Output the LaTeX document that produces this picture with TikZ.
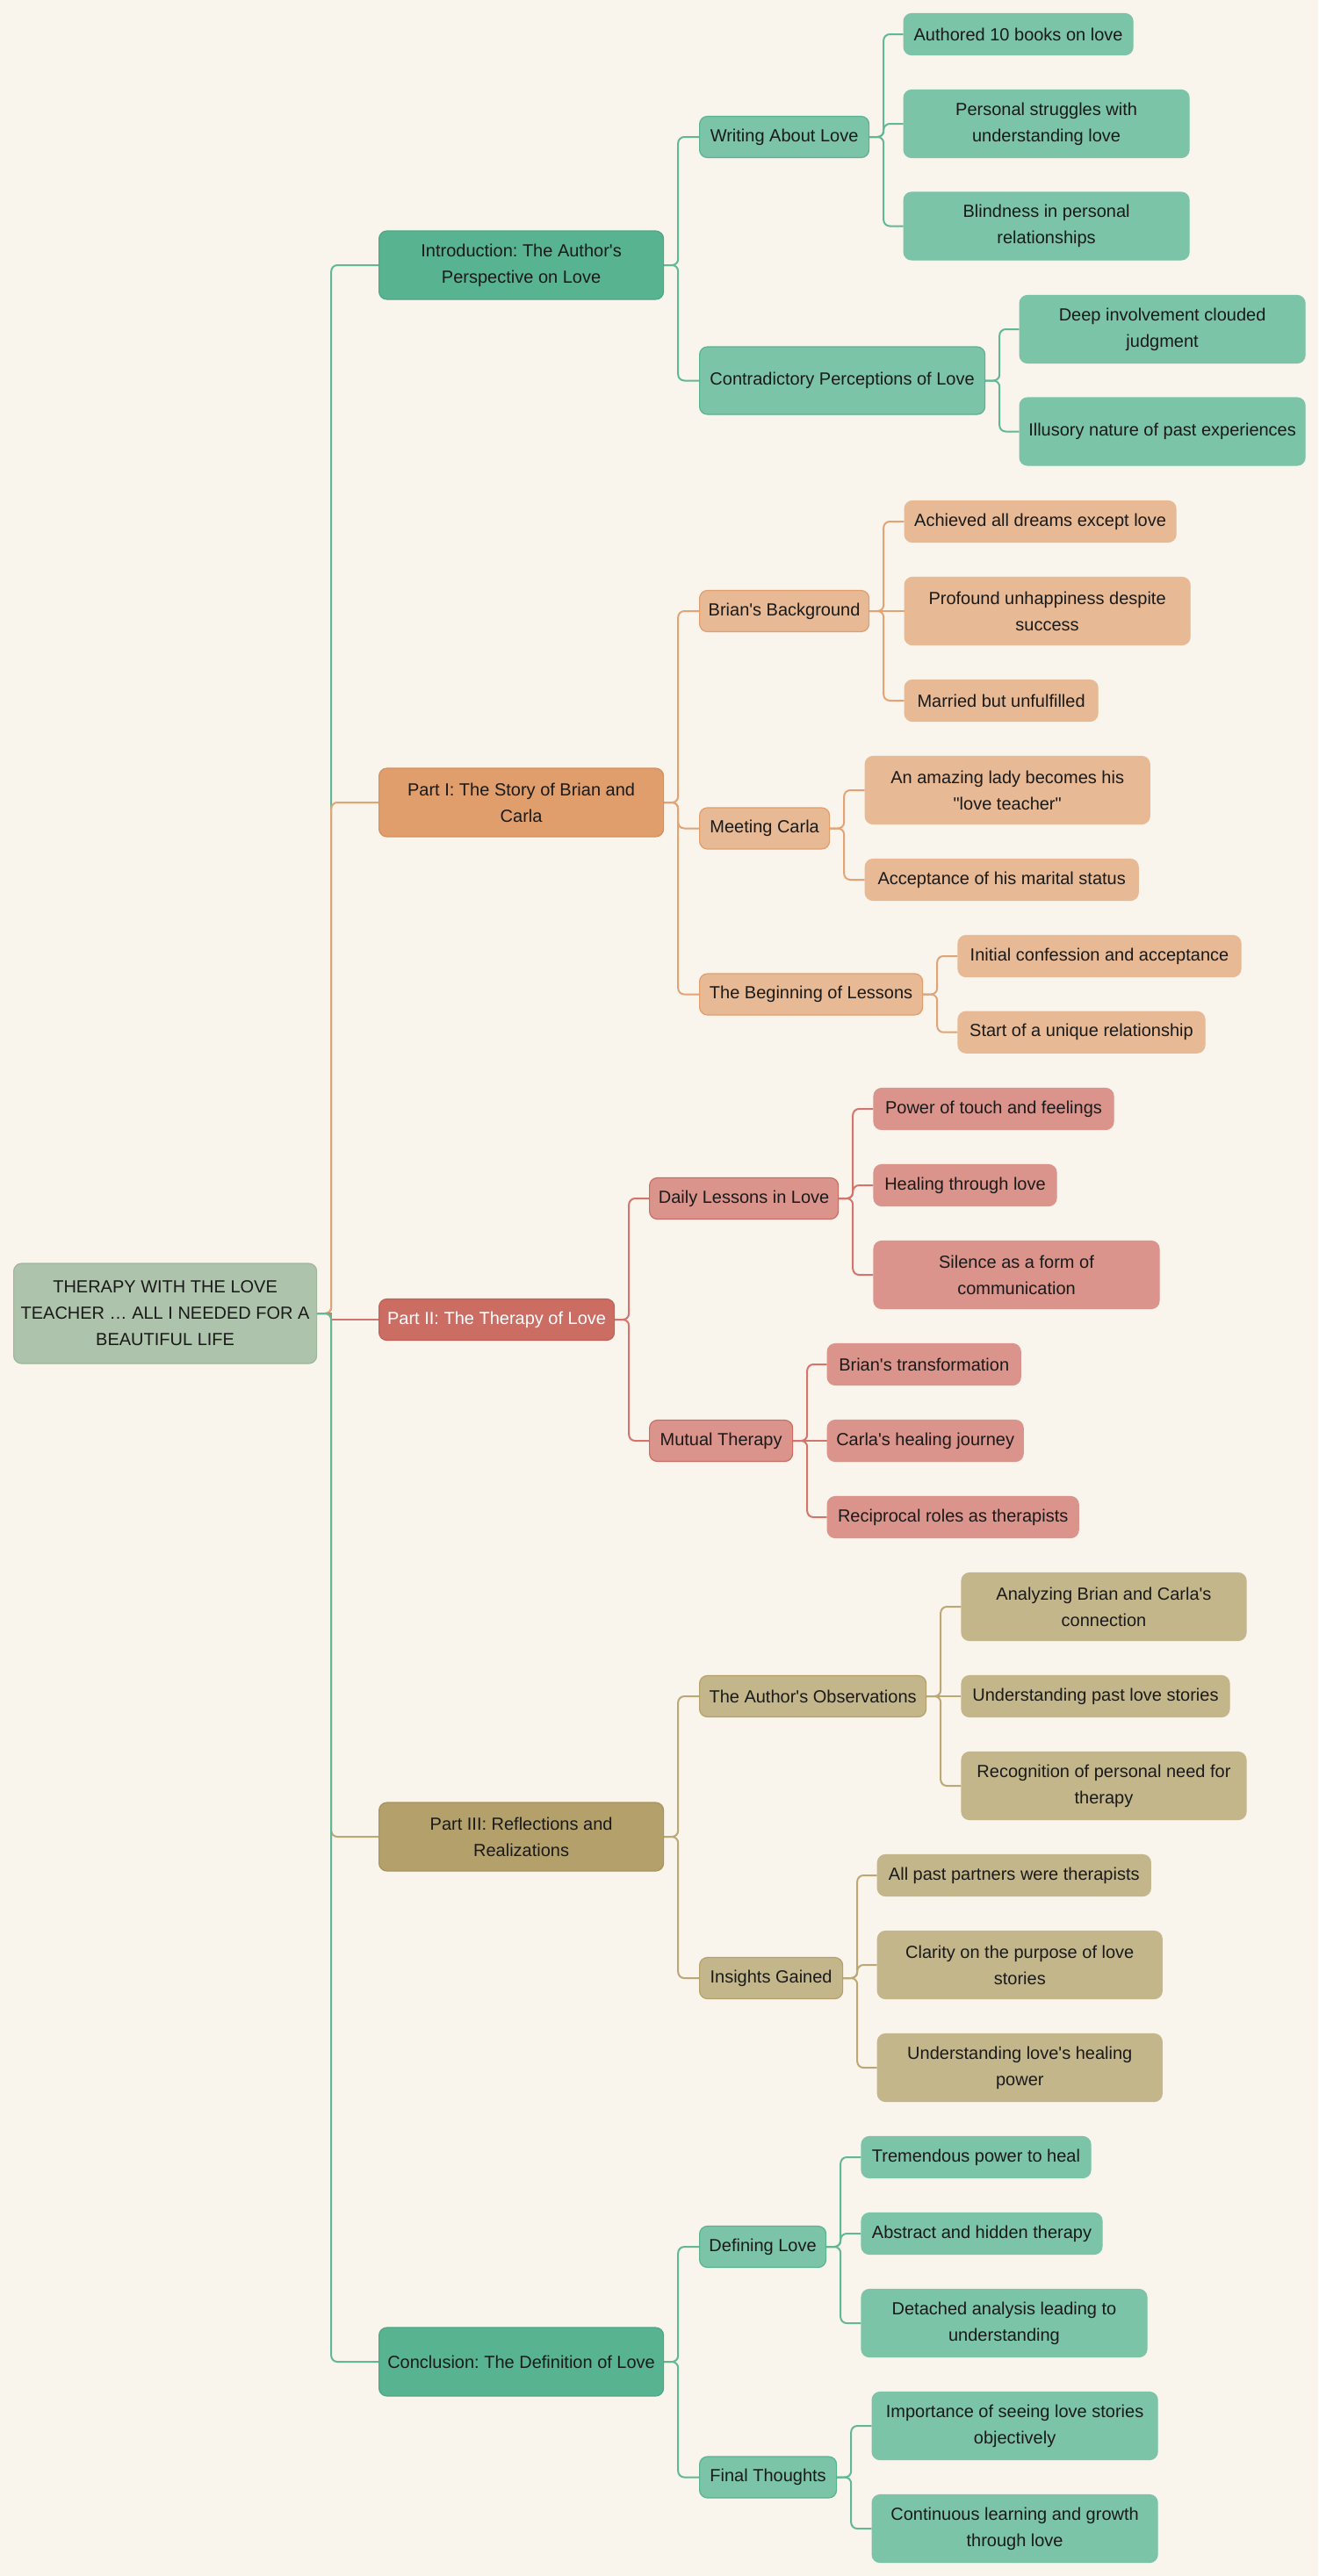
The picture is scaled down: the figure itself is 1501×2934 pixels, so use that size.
\documentclass[tikz,border=0pt]{standalone}
\usepackage{fontspec}
\setmainfont{Liberation Sans}[Ligatures=TeXOff]
\pgfdeclarelayer{bg}
\pgfsetlayers{bg,main}
\definecolor{bgc}{HTML}{F9F4EC}
\definecolor{txt}{HTML}{1A1A1A}
\definecolor{rootF}{HTML}{AEC3AB}
\definecolor{rootD}{HTML}{9DB79A}
\definecolor{gAf}{HTML}{58B391}
\definecolor{gAd}{HTML}{4FA686}
\definecolor{gBf}{HTML}{7BC4A8}
\definecolor{gL}{HTML}{62B896}
\definecolor{oAf}{HTML}{E09E6D}
\definecolor{oAd}{HTML}{D48F5C}
\definecolor{oBf}{HTML}{E7B994}
\definecolor{oL}{HTML}{E2A474}
\definecolor{rAf}{HTML}{CC6D64}
\definecolor{rAd}{HTML}{C25F56}
\definecolor{rBf}{HTML}{DA948C}
\definecolor{rL}{HTML}{D4756D}
\definecolor{yAf}{HTML}{B4A06A}
\definecolor{yAd}{HTML}{A8935C}
\definecolor{yBf}{HTML}{C4B68B}
\definecolor{yL}{HTML}{BBA875}
\tikzset{
  base/.style={rounded corners=4.5pt, align=center, inner xsep=0pt, inner ysep=0pt,
    font=\fontsize{10}{15}\selectfont\frenchspacing, text=txt, line width=0.6pt, anchor=west},
  rootn/.style={base, fill=rootF, draw=rootD},
  gA/.style={base, fill=gAf, draw=gAd},
  gB/.style={base, fill=gBf, draw=gAf},
  gC/.style={base, fill=gBf, draw=gBf},
  oA/.style={base, fill=oAf, draw=oAd},
  oB/.style={base, fill=oBf, draw=oAf},
  oC/.style={base, fill=oBf, draw=oBf},
  rA/.style={base, fill=rAf, draw=rAd, text=white},
  rB/.style={base, fill=rBf, draw=rAf},
  rC/.style={base, fill=rBf, draw=rBf},
  yA/.style={base, fill=yAf, draw=yAd},
  yB/.style={base, fill=yBf, draw=yAf},
  yC/.style={base, fill=yBf, draw=yBf},
  link/.style={line width=1pt, rounded corners=3.5pt},
  gl/.style={link, draw=gL},
  ol/.style={link, draw=oL},
  rl/.style={link, draw=rL},
  yl/.style={link, draw=yL}
}
\newcommand\nd[6]{\node[#1, minimum width={0.5pt*#4}, minimum height={0.5pt*#5}] (#2) at (#3) {#6};}
\newcommand\cn[3]{\draw[#1] (#2.east) -- ++(16,0) |- (#3.west);}
\newcommand\cs[3]{\draw[#1, sharp corners] (#2.east) -- ++(16,0) |- (#3.west);}
\begin{document}
\begin{tikzpicture}[x=0.5pt,y=-0.5pt]
\begin{pgfonlayer}{bg}
\fill[bgc] (0,0) rectangle (1501,2934);
\end{pgfonlayer}
\useasboundingbox (0,0) rectangle (1501,2934);
% root
\nd{rootn}{root}{15,1496}{345}{114}{THERAPY WITH THE LOVE\\TEACHER … ALL I NEEDED FOR A\\BEAUTIFUL LIFE}
% level 1
\nd{gA}{intro}{431,302}{324}{78}{Introduction: The Author's\\Perspective on Love}
\nd{oA}{p1}{431,914}{324}{78}{Part I: The Story of Brian and\\Carla}
\nd{rA}{p2}{431,1503}{268}{47}{Part II: The Therapy of Love}
\nd{yA}{p3}{431,2092}{324}{78}{Part III: Reflections and\\Realizations}
\nd{gA}{concl}{431,2690}{324}{78}{Conclusion: The Definition of Love}
% level 2
\nd{gB}{writing}{796,156}{193}{47}{Writing About Love}
\nd{gB}{contra}{796,433.5}{325}{77}{Contradictory Perceptions of Love}
\nd{oB}{brian}{796,696}{193}{47}{Brian's Background}
\nd{oB}{meet}{796,943.5}{148}{47}{Meeting Carla}
\nd{oB}{lessons}{796,1132.5}{254}{47}{The Beginning of Lessons}
\nd{rB}{daily}{739,1365}{215}{47}{Daily Lessons in Love}
\nd{rB}{mutual}{739,1641}{163}{47}{Mutual Therapy}
\nd{yB}{obs}{796,1932}{258}{47}{The Author's Observations}
\nd{yB}{insights}{796,2253}{163}{47}{Insights Gained}
\nd{gB}{defining}{796,2559}{144}{47}{Defining Love}
\nd{gB}{final}{796,2821.5}{156}{47}{Final Thoughts}
% level 3
\nd{gC}{authored}{1028.5,39}{261}{47}{Authored 10 books on love}
\nd{gC}{personal}{1028.5,141}{325}{77}{Personal struggles with\\understanding love}
\nd{gC}{blind}{1028.5,257.5}{325}{77}{Blindness in personal\\relationships}
\nd{gC}{deep}{1160.5,375}{325}{77}{Deep involvement clouded\\judgment}
\nd{gC}{illusory}{1160.5,491.5}{325}{77}{Illusory nature of past experiences}
\nd{oC}{achieved}{1029.5,594}{309}{47}{Achieved all dreams except love}
\nd{oC}{profound}{1029.5,696}{325}{77}{Profound unhappiness despite\\success}
\nd{oC}{married}{1029.5,798}{220}{47}{Married but unfulfilled}
\nd{oC}{amazing}{984.6,900}{324}{77}{An amazing lady becomes his\\"love teacher"}
\nd{oC}{accept}{984.6,1002}{311}{47}{Acceptance of his marital status}
\nd{oC}{initial}{1090.4,1089}{322}{47}{Initial confession and acceptance}
\nd{oC}{start}{1090.4,1175.7}{281}{47}{Start of a unique relationship}
\nd{rC}{power}{994.4,1263}{273}{47}{Power of touch and feelings}
\nd{rC}{healing}{994.4,1350}{208}{47}{Healing through love}
\nd{rC}{silence}{994.4,1452}{325}{77}{Silence as a form of\\communication}
\nd{rC}{btrans}{941.6,1554}{220}{47}{Brian's transformation}
\nd{rC}{carla}{941.6,1641}{223}{47}{Carla's healing journey}
\nd{rC}{recip}{941.6,1728}{286}{47}{Reciprocal roles as therapists}
\nd{yC}{analyzing}{1094.4,1830}{324}{77}{Analyzing Brian and Carla's\\connection}
\nd{yC}{pastlove}{1094.4,1932}{305}{47}{Understanding past love stories}
\nd{yC}{recog}{1094.4,2034}{324}{77}{Recognition of personal need for\\therapy}
\nd{yC}{allpast}{998.7,2136}{311}{47}{All past partners were therapists}
\nd{yC}{clarity}{998.7,2238}{324}{77}{Clarity on the purpose of love\\stories}
\nd{yC}{underlove}{998.7,2355}{324}{77}{Understanding love's healing\\power}
\nd{gC}{tremendous}{980.4,2457}{261}{47}{Tremendous power to heal}
\nd{gC}{abstract}{980.4,2544}{274}{47}{Abstract and hidden therapy}
\nd{gC}{detached}{980.4,2646}{325}{77}{Detached analysis leading to\\understanding}
\nd{gC}{importance}{992.5,2763}{325}{77}{Importance of seeing love stories\\objectively}
\nd{gC}{continuous}{992.5,2880}{325}{77}{Continuous learning and growth\\through love}
% connectors
\begin{pgfonlayer}{bg}
\cn{gl}{root}{intro}
\cn{ol}{root}{p1}
\cs{rl}{root}{p2}
\cn{yl}{root}{p3}
\cn{gl}{root}{concl}
\cn{gl}{intro}{writing}
\cn{gl}{intro}{contra}
\cn{gl}{writing}{authored}
\cn{gl}{writing}{personal}
\cn{gl}{writing}{blind}
\cn{gl}{contra}{deep}
\cn{gl}{contra}{illusory}
\cn{ol}{p1}{brian}
\cn{ol}{p1}{meet}
\cn{ol}{p1}{lessons}
\cn{ol}{brian}{achieved}
\cs{ol}{brian}{profound}
\cn{ol}{brian}{married}
\cn{ol}{meet}{amazing}
\cn{ol}{meet}{accept}
\cn{ol}{lessons}{initial}
\cn{ol}{lessons}{start}
\cn{rl}{p2}{daily}
\cn{rl}{p2}{mutual}
\cn{rl}{daily}{power}
\cn{rl}{daily}{healing}
\cn{rl}{daily}{silence}
\cn{rl}{mutual}{btrans}
\cs{rl}{mutual}{carla}
\cn{rl}{mutual}{recip}
\cn{yl}{p3}{obs}
\cn{yl}{p3}{insights}
\cn{yl}{obs}{analyzing}
\cs{yl}{obs}{pastlove}
\cn{yl}{obs}{recog}
\cn{yl}{insights}{allpast}
\cn{yl}{insights}{clarity}
\cn{yl}{insights}{underlove}
\cn{gl}{concl}{defining}
\cn{gl}{concl}{final}
\cn{gl}{defining}{tremendous}
\cn{gl}{defining}{abstract}
\cn{gl}{defining}{detached}
\cn{gl}{final}{importance}
\cn{gl}{final}{continuous}
\end{pgfonlayer}
\end{tikzpicture}
\end{document}
